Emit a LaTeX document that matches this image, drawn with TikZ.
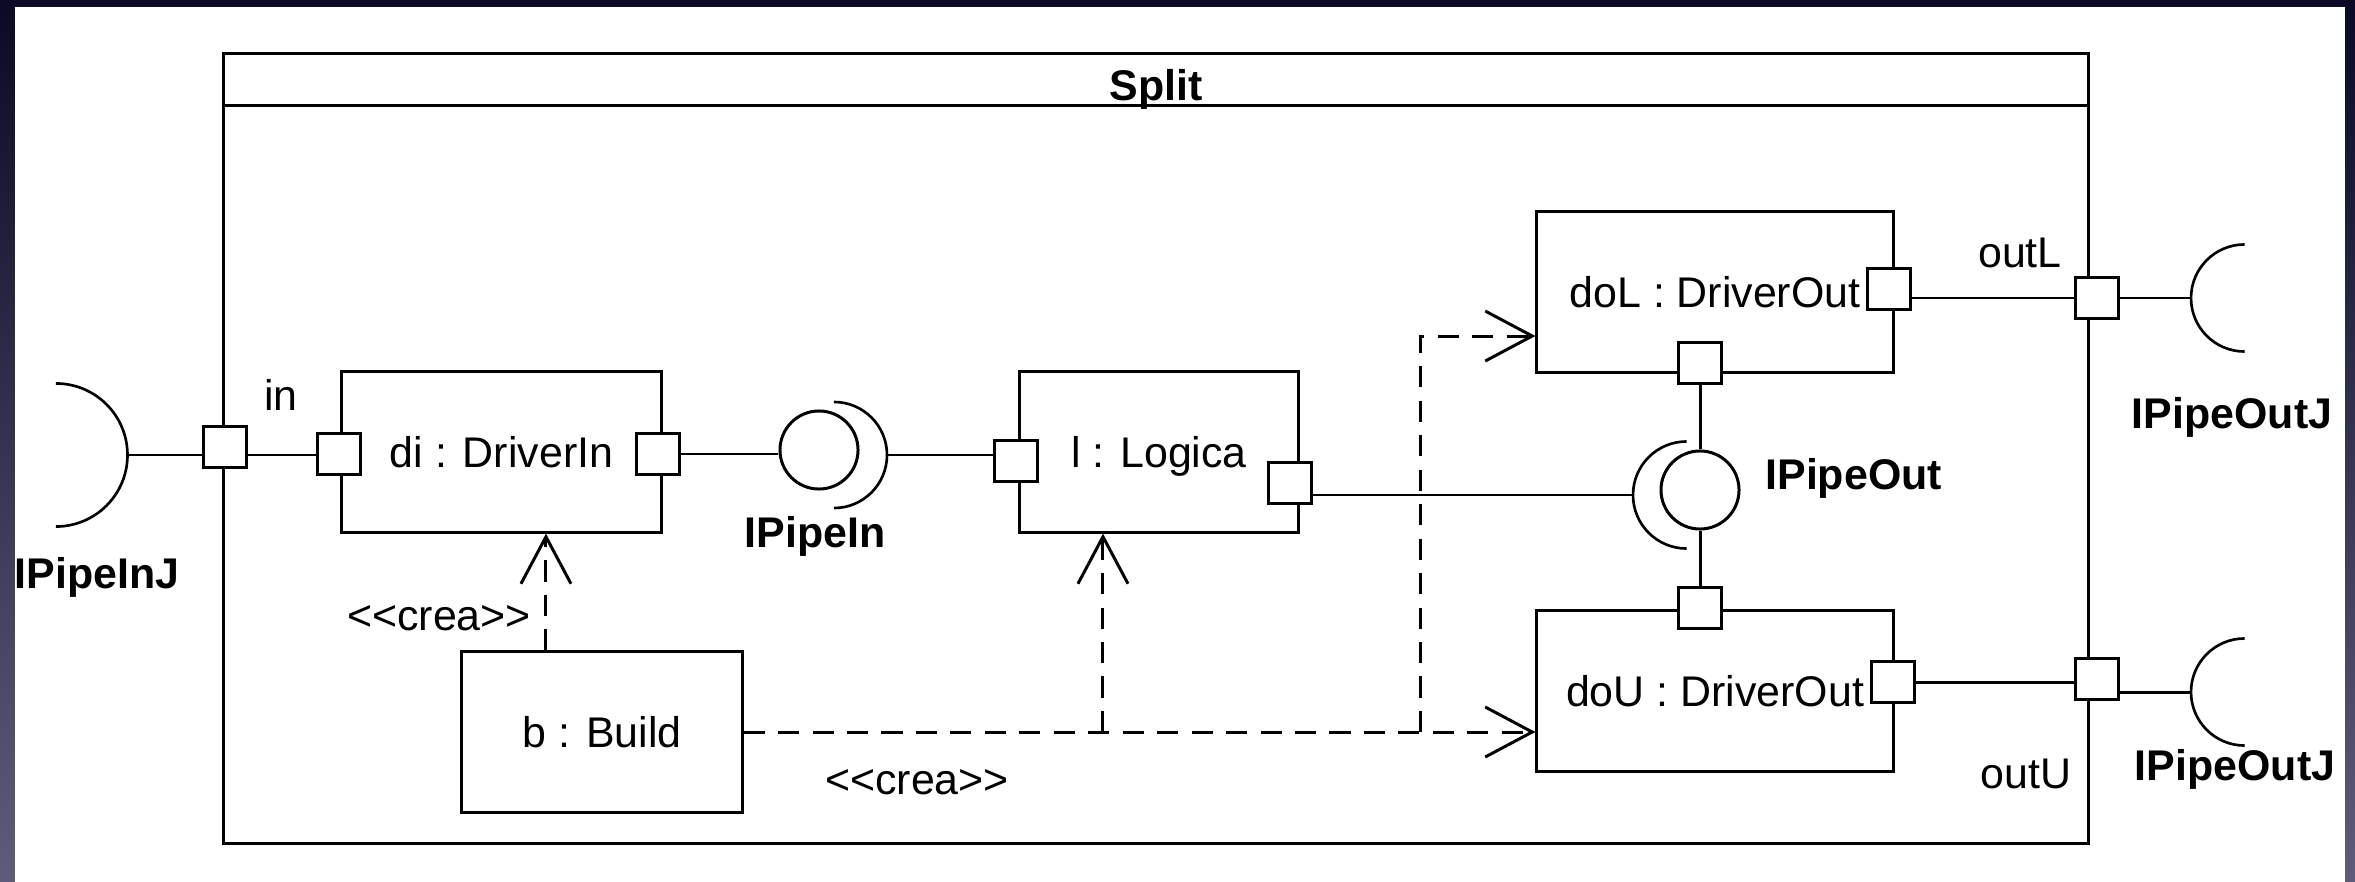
\documentclass[tikz,border=0pt]{standalone}
\usepackage{fontspec}
\setmainfont{Liberation Sans}
\usetikzlibrary{arrows.meta}
\definecolor{slidetop}{RGB}{10,10,36}
\definecolor{slidebot}{RGB}{95,92,122}
\newcommand{\creatxt}{<\kern0pt<crea>\kern0pt>}

\begin{document}
\begin{tikzpicture}[x=0.01cm, y=0.01cm, line width=0.85pt,
    txt/.style={inner sep=0pt, text height=3.1mm, text depth=0pt, font=\fontsize{12.2}{14}\selectfont},
    bold/.style={txt, font=\fontsize{12.2}{14}\selectfont\bfseries},
    part/.style={txt, draw, fill=white, minimum height=1.6cm},
    port/.style={draw, fill=white, inner sep=0pt, minimum width=0.43cm, minimum height=0.41cm},
    iface/.style={draw, circle, inner sep=0pt, minimum size=0.78cm},
    socket/.style={line width=0.75pt},
    crea/.style={dash pattern=on 6pt off 3.8pt, -{Straight Barb[length=4.7mm, width=5mm]}}]
    \shade[top color=slidetop, bottom color=slidebot] (0,0) rectangle (2355,-882);
    \fill[white] (15,-7) rectangle (2345,-882);
    \useasboundingbox (0,0) rectangle (2355,-882);

    \node[draw, minimum width=18.64cm, minimum height=7.89cm] (split) at (1156,-448.5) {};
    \draw ([yshift=-0.53cm]split.north west) -- ([yshift=-0.53cm]split.north east);
    \node[bold] (title) at (1156,-85) {Split};

    \node[part, minimum width=3.19cm] (di) at (501.5,-452) {di : DriverIn};
    \node[part, minimum width=2.78cm] (lg) at (1159,-452) {l : Logica};
    \node[part, minimum width=3.56cm] (dol) at (1715,-292) {doL : DriverOut};
    \node[part, minimum width=3.56cm] (dou) at (1715,-691) {doU : DriverOut};
    \node[part, minimum width=2.8cm] (bld) at (602,-732) {b : Build};

    \node[port] (pin) at (225,-447) {};
    \node[port] (diL) at (339,-454) {};
    \node[port] (diR) at (658,-454) {};
    \node[port] (lgL) at (1016,-461) {};
    \node[port] (lgR) at (1290,-483) {};
    \node[port] (dolR) at (1889,-289) {};
    \node[port] (dolB) at (1700,-363) {};
    \node[port] (douT) at (1700,-608) {};
    \node[port] (douR) at (1893,-682) {};
    \node[port] (poutL) at (2097,-298) {};
    \node[port] (poutU) at (2097,-679) {};

    \node[iface] (ipin) at (819,-450) {};
    \node[iface] (ipout) at (1700,-490) {};

    \coordinate (sockJ) at (127.5,-455);
    \coordinate (sockIn) at (887,-455);
    \coordinate (sockOut) at (1633,-495);
    \coordinate (sockL) at (2191,-298);
    \coordinate (sockU) at (2191,-692);
    \coordinate (fork) at (1420,-732);

    \draw[socket] (sockJ) arc[start angle=0, end angle=90, radius=0.715cm]
        (sockJ) arc[start angle=0, end angle=-90, radius=0.715cm];
    \draw[socket] (sockIn) arc[start angle=0, end angle=90, radius=0.53cm]
        (sockIn) arc[start angle=0, end angle=-90, radius=0.53cm];
    \draw[socket] (sockOut) arc[start angle=180, end angle=90, radius=0.535cm]
        (sockOut) arc[start angle=180, end angle=270, radius=0.535cm];
    \draw[socket] (sockL) arc[start angle=180, end angle=90, radius=0.535cm]
        (sockL) arc[start angle=180, end angle=270, radius=0.535cm];
    \draw[socket] (sockU) arc[start angle=180, end angle=90, radius=0.535cm]
        (sockU) arc[start angle=180, end angle=270, radius=0.535cm];

    \draw (sockJ) -- (sockJ -| pin.west);
    \draw (pin.east |- sockJ) -- (sockJ -| diL.west);
    \draw (diR.east) -- (diR.east -| ipin.west);
    \draw (sockIn) -- (sockIn -| lgL.west);
    \draw (lgR.east |- sockOut) -- (sockOut);
    \draw (dolB.south) -- (dolB.south |- ipout.north);
    \draw (douT.north) -- (douT.north |- ipout.south);
    \draw (dolR.east |- poutL) -- (poutL.west);
    \draw (poutL.east) -- (poutL.east -| sockL);
    \draw (douR.east) -- (douR.east -| poutU.west);
    \draw (poutU.east |- sockU) -- (sockU);

    \draw[crea] ([xshift=-0.56cm]bld.north) -- ([xshift=-0.56cm]bld.north |- di.south);
    \draw[crea] (bld.east) -- (bld.east -| dou.west);
    \draw[crea] ([xshift=-0.56cm]lg.south |- bld.east) -- ([xshift=-0.56cm]lg.south);
    \draw[crea] (fork) |- ([yshift=-0.44cm]dol.west);

    \node[txt] (inlbl) at (281,-395) {in};
    \node[txt] (crea1) at (439,-615) {\creatxt};
    \node[txt] (crea2) at (917,-779) {\creatxt};
    \node[txt] (outl) at (2020,-252) {outL};
    \node[txt] (outu) at (2026,-773) {outU};
    \node[bold] (lblJ) at (97,-573) {IPipeInJ};
    \node[bold] (lblIn) at (815,-532) {IPipeIn};
    \node[bold, anchor=west] (lblOut) at (1764,-474) {IPipeOut};
    \node[bold] (lblL) at (2232,-413) {IPipeOutJ};
    \node[bold] (lblU) at (2235,-765) {IPipeOutJ};
\end{tikzpicture}
\end{document}
